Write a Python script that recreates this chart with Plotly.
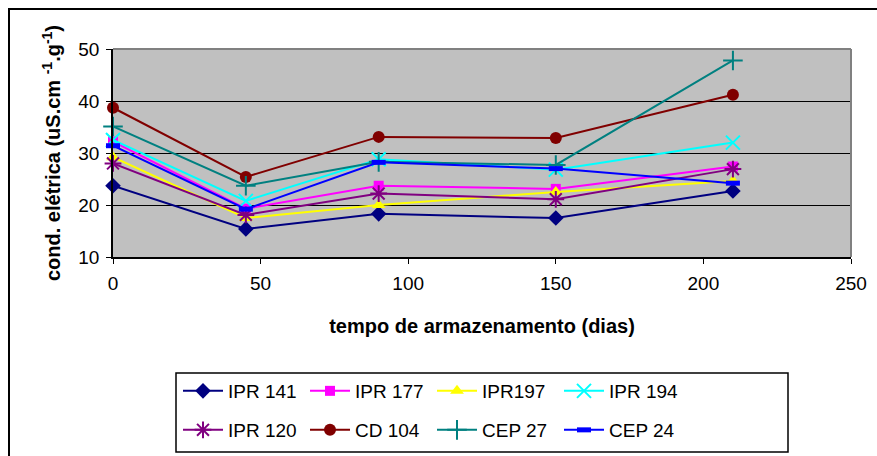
import plotly.graph_objects as go

days = [0, 45, 90, 150, 210]
names = ["IPR 141", "IPR 177", "IPR197", "IPR 194", "IPR 120", "CD 104", "CEP 27", "CEP 24"]
ipr141 = [23.7, 15.4, 18.3, 17.5, 22.7]
ipr177 = [32.2, 19.3, 23.7, 23.1, 27.4]
ipr197 = [29.2, 17.5, 20.0, 22.5, 24.6]
ipr194 = [32.5, 20.8, 28.8, 26.8, 32.0]
ipr120 = [28.0, 18.1, 22.2, 21.1, 26.9]
cd104 = [38.7, 25.4, 33.1, 32.9, 41.2]
cep27 = [35.1, 23.7, 28.3, 27.7, 47.8]
cep24 = [31.4, 19.2, 28.2, 27.0, 24.2]
series = [ipr141, ipr177, ipr197, ipr194, ipr120, cd104, cep27, cep24]

colors = ["#000080", "#FF00FF", "#FFFF00", "#00FFFF", "#800080", "#800000", "#008080", "#0000FF"]
symbols = ["diamond", "square", "triangle-up", "x-thin", "asterisk", "circle", "cross-thin", "line-ew"]
msizes = [12, 10, 12, 14, 14, 12, 14, 10]

fig = go.Figure()
for i, (nm, vals) in enumerate(zip(names, series)):
    sym = symbols[i]
    open_sym = sym in ("x-thin", "asterisk", "cross-thin", "line-ew")
    marker = dict(symbol=sym, size=msizes[i], color=colors[i])
    if open_sym:
        marker["line"] = dict(color=colors[i], width=5 if sym == "line-ew" else 2)
    else:
        marker["line"] = dict(width=0)
    fig.add_trace(go.Scatter(
        x=days, y=vals, name=nm, mode="lines+markers",
        line=dict(color=colors[i], width=2), marker=marker,
        cliponaxis=False,
        legend="legend" if i < 4 else "legend2",
    ))

font = "Liberation Sans, Arial, sans-serif"
W, H = 877, 456
L, R, T, B = 113, 851, 49, 257
pw, ph = R - L, B - T

def px2x(px):
    return (px - L) / pw

def py2y(py):
    return (B - py) / ph

legend_common = dict(
    orientation="h", entrywidth=72, entrywidthmode="pixels",
    font=dict(family=font, size=19, color="black"),
    bgcolor="rgba(0,0,0,0)", borderwidth=0,
    xanchor="left", yanchor="middle", itemwidth=40,
)

fig.update_layout(
    width=W, height=H,
    margin=dict(l=L, r=W - R, t=T, b=H - B, autoexpand=False),
    paper_bgcolor="white", plot_bgcolor="#C0C0C0",
    font=dict(family=font, size=19, color="black"),
    legend=dict(**legend_common, x=px2x(178), y=py2y(391)),
    legend2=dict(**legend_common, x=px2x(178), y=py2y(430)),
    xaxis=dict(
        range=[0, 250], dtick=50, tick0=0, showgrid=False, zeroline=False,
        ticks="outside", ticklen=5, tickcolor="black", showline=True,
        linecolor="black", linewidth=1.5, ticklabelstandoff=3,
        tickfont=dict(family=font, size=19, color="black"),
        title=dict(text="<b>tempo de armazenamento (dias)</b>",
                   font=dict(family=font, size=20, color="black"), standoff=26),
    ),
    yaxis=dict(
        range=[10, 50], dtick=10, tick0=10, showgrid=True, gridcolor="black",
        gridwidth=1, zeroline=False, ticks="outside", ticklen=5,
        tickcolor="black", showline=True, linecolor="black", linewidth=1.5,
        ticklabelstandoff=3,
        tickfont=dict(family=font, size=19, color="black"),
        title=dict(text="<b>cond. elétrica (uS.cm <sup>-1</sup>.g<sup>-1</sup>)</b>",
                   font=dict(family=font, size=20, color="black"), standoff=12),
    ),
    shapes=[
        dict(type="line", xref="paper", yref="paper", x0=0, x1=1, y0=1, y1=1,
             line=dict(color="#808080", width=2)),
        dict(type="line", xref="paper", yref="paper", x0=1, x1=1, y0=0, y1=1,
             line=dict(color="#808080", width=2)),
        dict(type="rect", xref="paper", yref="paper",
             x0=px2x(9), x1=px2x(W + 20), y0=py2y(9), y1=py2y(H + 20),
             line=dict(color="black", width=2), layer="below"),
        dict(type="rect", xref="paper", yref="paper",
             x0=px2x(176), x1=px2x(788), y0=py2y(373), y1=py2y(452),
             line=dict(color="black", width=1.5)),
    ],
)

fig.write_html("out.html")
